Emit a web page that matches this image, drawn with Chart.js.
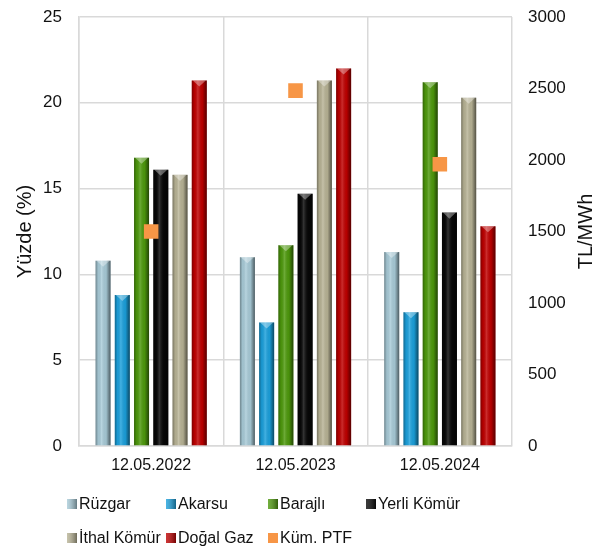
<!DOCTYPE html>
<html lang="tr">
<head>
<meta charset="utf-8" />
<script src="https://cdn.jsdelivr.net/npm/chart.js@4.4.1/dist/chart.umd.min.js"></script>
<style>
  html, body { margin: 0; padding: 0; background: #fff; }
  #kutu { width: 613px; height: 550px; position: relative; }
</style>
<title>Üretim payları ve PTF</title>
</head>
<body>
<div id="kutu"><canvas id="grafik"></canvas></div>
<script>
// veriler
const tarihler = ["12.05.2022", "12.05.2023", "12.05.2024"];
const ruzgar = [10.8, 11.0, 11.3];
const akarsu = [8.8, 7.2, 7.8];
const barajli = [16.8, 11.7, 21.2];
const yerliKomur = [16.1, 14.7, 13.6];
const ithalKomur = [15.8, 21.3, 20.3];
const dogalGaz = [21.3, 22.0, 12.8];
const kumPtf = [1500, 2485, 1970];

const solEksen = [0, 25, 5];
const sagEksen = [0, 3000, 500];

const yazi = "'Liberation Sans', Arial, sans-serif";
const gri = "#d9d9d9";

const seriler = [
  { ad: "Rüzgar", veri: ruzgar, renk: "#a9ccd9" },
  { ad: "Akarsu", veri: akarsu, renk: "#1ba1dd" },
  { ad: "Barajlı", veri: barajli, renk: "#4e9a0c" },
  { ad: "Yerli Kömür", veri: yerliKomur, renk: "#080808" },
  { ad: "İthal Kömür", veri: ithalKomur, renk: "#b9b496" },
  { ad: "Doğal Gaz", veri: dogalGaz, renk: "#c00000" }
];
const ptfRenk = "#f79646";

const datasets = seriler.map(s => ({
  type: "bar",
  label: s.ad,
  data: s.veri,
  backgroundColor: s.renk,
  borderWidth: 0,
  yAxisID: "y",
  categoryPercentage: 0.8,
  barPercentage: 0.78,
  order: 1
}));
datasets.push({
  type: "line",
  label: "Küm. PTF",
  data: kumPtf,
  yAxisID: "y1",
  showLine: false,
  pointStyle: "rect",
  pointRadius: 10.3,
  pointHoverRadius: 10.3,
  pointBorderWidth: 0,
  pointBackgroundColor: ptfRenk,
  borderColor: ptfRenk,
  order: 0
});

// çubuklara hafif 3B görünüm
const golge = {
  id: "golge",
  afterDatasetDraw(chart, args) {
    const meta = args.meta;
    if (meta.type !== "bar") return;
    const ctx = chart.ctx;
    meta.data.forEach(bar => {
      const w = bar.width, x0 = bar.x - w / 2, top = bar.y, alt = bar.base;
      const g = ctx.createLinearGradient(x0, 0, x0 + w, 0);
      g.addColorStop(0, "rgba(0,0,0,0.35)");
      g.addColorStop(0.18, "rgba(0,0,0,0.05)");
      g.addColorStop(0.4, "rgba(255,255,255,0.18)");
      g.addColorStop(0.7, "rgba(0,0,0,0.05)");
      g.addColorStop(0.85, "rgba(0,0,0,0.3)");
      g.addColorStop(1, "rgba(0,0,0,0.55)");
      ctx.save();
      ctx.fillStyle = g;
      ctx.fillRect(x0, top, w, alt - top);
      // üst kısımdaki üçgen
      ctx.fillStyle = "rgba(255,255,255,0.35)";
      ctx.beginPath();
      ctx.moveTo(x0 + 1, top);
      ctx.lineTo(x0 + w - 1, top);
      ctx.lineTo(bar.x, top + w * 0.4);
      ctx.closePath();
      ctx.fill();
      ctx.restore();
    });
  }
};

// sağ eksen başlığı ve lejant
const ekYazilar = {
  id: "ekYazilar",
  afterDraw(chart) {
    const ctx = chart.ctx;
    const a = chart.chartArea;
    ctx.save();
    ctx.fillStyle = "#111";
    ctx.font = "20px " + yazi;
    ctx.textAlign = "center";
    ctx.textBaseline = "middle";
    ctx.translate(586, (a.top + a.bottom) / 2);
    ctx.rotate(-Math.PI / 2);
    ctx.fillText("TL/MWh", 0, 0);
    ctx.restore();

    const ogeler = seriler.map(s => ({ ad: s.ad, renk: s.renk }));
    ogeler.push({ ad: "Küm. PTF", renk: ptfRenk });
    const sutunlar = [67, 166, 268, 366];
    const satirlar = [504, 538];
    ctx.save();
    ctx.font = "16px " + yazi;
    ctx.textBaseline = "middle";
    ctx.textAlign = "left";
    ogeler.forEach((o, i) => {
      const x = sutunlar[i % 4], y = satirlar[Math.floor(i / 4)];
      ctx.fillStyle = o.renk;
      ctx.fillRect(x, y - 5, 10, 10);
      if (o.ad !== "Küm. PTF") {
        const g = ctx.createLinearGradient(x, 0, x + 10, 0);
        g.addColorStop(0, "rgba(255,255,255,0.2)");
        g.addColorStop(1, "rgba(0,0,0,0.4)");
        ctx.fillStyle = g;
        ctx.fillRect(x, y - 5, 10, 10);
      }
      ctx.fillStyle = "#111";
      ctx.fillText(o.ad, x + 12, y + 1);
    });
    ctx.restore();
  }
};

new Chart(document.getElementById("grafik"), {
  data: { labels: tarihler, datasets: datasets },
  plugins: [golge, ekYazilar],
  options: {
    responsive: true,
    maintainAspectRatio: false,
    animation: false,
    layout: { padding: { top: 17, bottom: 69, left: 0, right: 0 } },
    plugins: {
      legend: { display: false },
      tooltip: { enabled: false }
    },
    scales: {
      x: {
        grid: { offset: true, color: gri, lineWidth: 1.5, drawTicks: false },
        border: { color: gri, width: 1.5 },
        ticks: { color: "#111", font: { family: yazi, size: 16 }, padding: 10 },
        afterFit(s) { s.height = 35; }
      },
      y: {
        position: "left",
        min: solEksen[0], max: solEksen[1],
        ticks: { stepSize: solEksen[2], color: "#111", font: { family: yazi, size: 17 }, padding: 0 },
        grid: { color: gri, lineWidth: 1.5, drawTicks: true, tickLength: 17, tickColor: "transparent" },
        border: { color: gri, width: 1.5 },
        title: { display: true, text: "Yüzde (%)", color: "#111", font: { family: yazi, size: 20 }, padding: { top: 13 } },
        afterFit(s) { s.width = 79; }
      },
      y1: {
        position: "right",
        min: sagEksen[0], max: sagEksen[1],
        ticks: {
          stepSize: sagEksen[2], color: "#111", font: { family: yazi, size: 17 }, padding: 0,
          callback: v => String(v)
        },
        grid: { display: false, drawTicks: true, tickLength: 16 },
        border: { display: false },
        afterFit(s) { s.width = 101; }
      }
    }
  }
});
</script>
</body>
</html>
